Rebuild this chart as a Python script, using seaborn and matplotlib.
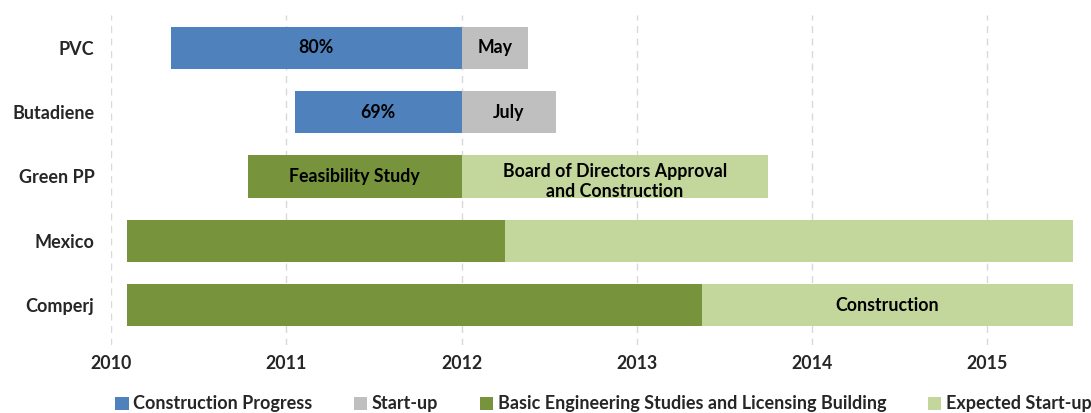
import matplotlib
matplotlib.use("Agg")
import matplotlib.pyplot as plt
from matplotlib.patches import Patch
import seaborn as sns
import pandas as pd

# ---- data ----
projects = ["PVC", "Butadiene", "Green PP", "Mexico", "Comperj"]

progress_projects = ["PVC", "Butadiene"]
progress_start = [2010.34, 2011.05]
progress_end = [2012.0, 2012.0]
progress_labels = ["80%", "69%"]

startup_projects = ["PVC", "Butadiene"]
startup_start = [2012.0, 2012.0]
startup_end = [2012.38, 2012.54]
startup_labels = ["May", "July"]

basic_projects = ["Green PP", "Mexico", "Comperj"]
basic_start = [2010.78, 2010.09, 2010.09]
basic_end = [2012.0, 2012.25, 2013.37]
basic_labels = ["Feasibility Study", "", ""]

expected_projects = ["Green PP", "Mexico", "Comperj"]
expected_start = [2012.0, 2012.25, 2013.37]
expected_end = [2013.75, 2015.49, 2015.49]
expected_labels = ["Board of Directors Approval\nand Construction", "", "Construction"]

years = [2010, 2011, 2012, 2013, 2014, 2015]

series = [
    ("Construction Progress", "#4F81BD", progress_projects, progress_start, progress_end, progress_labels),
    ("Start-up", "#BFBFBF", startup_projects, startup_start, startup_end, startup_labels),
    ("Basic Engineering Studies and Licensing Building", "#77933C", basic_projects, basic_start, basic_end, basic_labels),
    ("Expected Start-up", "#C3D69B", expected_projects, expected_start, expected_end, expected_labels),
]

sns.set_theme(style="white")
plt.rcParams["font.family"] = ["Lato", "DejaVu Sans"]
plt.rcParams["font.weight"] = "bold"

FS = 12.8

fig = plt.figure(figsize=(10.91, 4.13), dpi=100)
ax = fig.add_axes([111 / 1091, 1 - 345 / 413, (1075 - 111) / 1091, 330 / 413])

for name, color, projs, starts, ends, labels in series:
    df = pd.DataFrame({
        "project": pd.Categorical(projs, categories=projects),
        "duration": [e - s for s, e in zip(starts, ends)],
    })
    sns.barplot(data=df, y="project", x="duration", order=projects, color=color,
                orient="h", errorbar=None, width=0.66, left=starts,
                saturation=1, linewidth=0, ax=ax)
    for p, s, e, lab in zip(projs, starts, ends, labels):
        if lab:
            yi = projects.index(p)
            dy = 0.08 if "\n" in lab else 0.0
            ax.text((s + e) / 2, yi + dy, lab, ha="center", va="center",
                    fontsize=FS, fontweight="bold", color="black",
                    linespacing=1.2)

ax.set_xlim(2010, 2015.5)
ax.set_ylim(4.62, -0.51)
ax.set_xticks(years)
ax.set_xticklabels([str(y) for y in years], fontsize=FS, fontweight="bold")
ax.set_xlabel("")
ax.set_ylabel("")
ax.tick_params(axis="y", labelsize=13, pad=12, length=0)
ax.tick_params(axis="x", pad=7, length=0)
for lbl in ax.get_yticklabels():
    lbl.set_fontweight("bold")

ax.set_axisbelow(True)
ax.xaxis.grid(True, color="#D9D9D9", linestyle=(0, (5, 4)), linewidth=1)
ax.yaxis.grid(False)
for sp in ax.spines.values():
    sp.set_visible(False)

handles = [Patch(facecolor=c, edgecolor="none", label=n) for n, c, *_ in series]
fig.legend(handles=handles, loc="center", bbox_to_anchor=(0.553, 1 - 404 / 413), ncol=4,
           frameon=False, handlelength=0.75, handleheight=0.75, borderpad=0.2,
           handletextpad=0.25, columnspacing=2.3, prop={"weight": "bold", "size": 13})

fig.savefig("out.png", dpi=100)
